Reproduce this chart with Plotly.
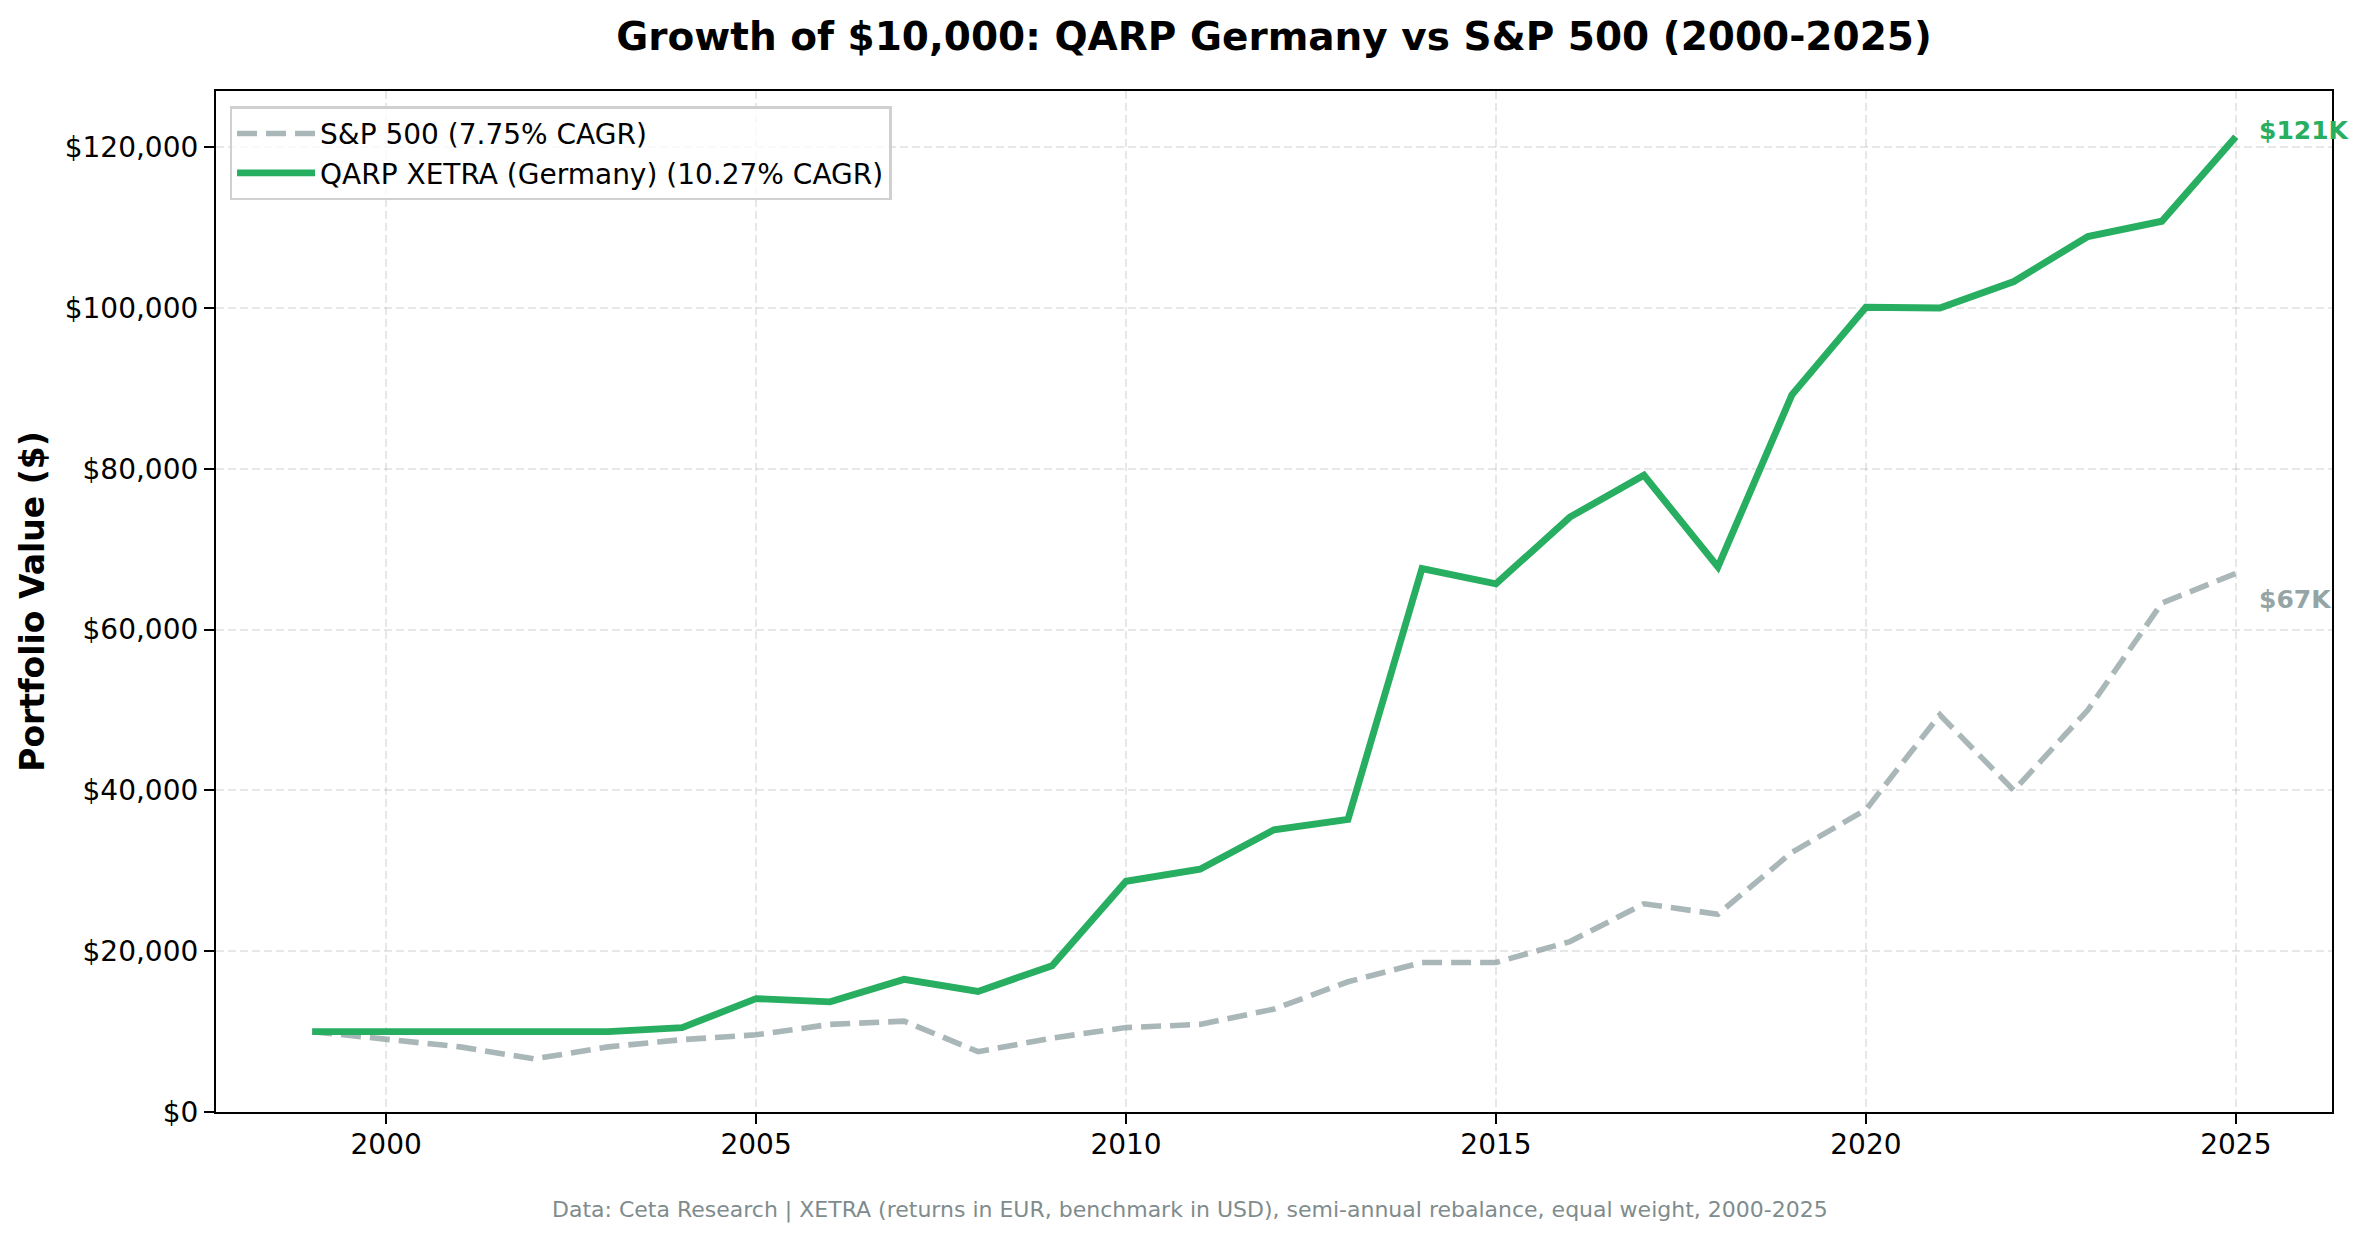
import plotly.graph_objects as go

# values
years = list(range(1999, 2026))
qarp_values = [10000, 10000, 10000, 10000, 10000, 10500, 14100, 13700, 16500, 15000,
               18200, 28700, 30200, 35100, 36400, 67600, 65700, 74000, 79200, 67800,
               89200, 100100, 100000, 103300, 108900, 110800, 121300]
sp500_values = [10000, 9000, 8100, 6600, 8100, 9000, 9600, 10900, 11300, 7500,
                9200, 10500, 10900, 12800, 16200, 18600, 18600, 21200, 25900, 24600,
                32300, 37600, 49400, 40000, 50000, 63300, 67000]
qarp_name = "QARP XETRA (Germany) (10.27% CAGR)"
sp500_name = "S&P 500 (7.75% CAGR)"
qarp_end_label = "$121K"
sp500_end_label = "$67K"
x_ticks = [2000, 2005, 2010, 2015, 2020, 2025]
y_ticks = [0, 20000, 40000, 60000, 80000, 100000, 120000]
y_tick_text = [f"${v:,}" for v in y_ticks]

GREEN = "#27ae60"
GRAY = "rgba(149,165,166,0.8)"
FONT = "DejaVu Sans"

fig = go.Figure()
fig.add_trace(go.Scatter(x=years, y=sp500_values, mode="lines", name=sp500_name,
                         line=dict(color=GRAY, width=5.6, dash="20px,9px")))
fig.add_trace(go.Scatter(x=years, y=qarp_values, mode="lines", name=qarp_name,
                         line=dict(color=GREEN, width=6.9)))

fig.add_annotation(x=years[-1], y=qarp_values[-1], text=f"<b>{qarp_end_label}</b>",
                   showarrow=False, xanchor="left", yanchor="middle", xshift=21, yshift=6,
                   font=dict(family=FONT, size=25, color=GREEN))
fig.add_annotation(x=years[-1], y=sp500_values[-1], text=f"<b>{sp500_end_label}</b>",
                   showarrow=False, xanchor="left", yanchor="middle", xshift=21, yshift=-26,
                   font=dict(family=FONT, size=25, color="#95a5a6"))

fig.add_annotation(x=0.4605, y=-0.096, xref="paper", yref="paper",
                   text="Data: Ceta Research | XETRA (returns in EUR, benchmark in USD), semi-annual rebalance, equal weight, 2000-2025",
                   showarrow=False, xanchor="center", yanchor="middle",
                   font=dict(family=FONT, size=22, color="#7f8c8d"))

axis_common = dict(showline=True, linecolor="black", linewidth=2.2, mirror=True,
                   ticks="outside", ticklen=10, tickwidth=2.2, tickcolor="black",
                   showgrid=True, gridcolor="rgba(176,176,176,0.3)", gridwidth=2.2,
                   griddash="8px,4px", zeroline=False,
                   tickfont=dict(family=FONT, size=28, color="black"))

fig.update_xaxes(range=[1997.7, 2026.3], tickvals=x_ticks, ticklabelstandoff=-4,
                 **axis_common)
fig.update_yaxes(range=[0, 127000], tickvals=y_ticks, ticktext=y_tick_text,
                 title=dict(text="<b>Portfolio Value ($)</b>", standoff=10,
                            font=dict(family=FONT, size=33, color="black")),
                 **axis_common)

fig.update_layout(
    width=2368, height=1239, autosize=False,
    margin=dict(l=216, r=36, t=91, b=127),
    paper_bgcolor="white", plot_bgcolor="white",
    title=dict(text="<b>Growth of $10,000: QARP Germany vs S&P 500 (2000-2025)</b>",
               x=0.538, xanchor="center", y=1 - 36 / 1239, yanchor="middle",
               font=dict(family=FONT, size=39, color="black")),
    legend=dict(x=0.0064, y=0.985, xanchor="left", yanchor="top", itemwidth=78,
                bgcolor="rgba(255,255,255,0.8)", bordercolor="#d0d0d0", borderwidth=2.5,
                font=dict(family=FONT, size=28, color="black")),
    font=dict(family=FONT),
)

fig.write_html("out.html", config={"displayModeBar": False},
               post_script="document.body.style.margin='0';")
